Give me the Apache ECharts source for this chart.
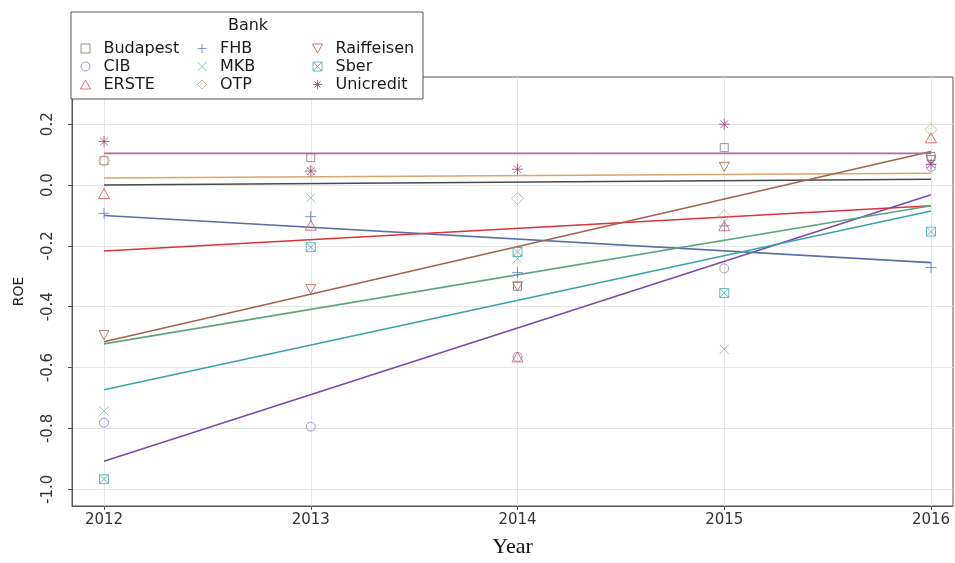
<!DOCTYPE html>
<html>
<head>
<meta charset="utf-8">
<title>ROE by Bank</title>
<script src="https://cdn.jsdelivr.net/npm/echarts@6/dist/echarts.min.js"></script>
<style>
  html, body { margin: 0; padding: 0; background: #fff; }
  #chart { width: 955px; height: 563px; }
</style>
</head>
<body>
<div id="chart"></div>
<script>
// Years on the x axis
const years = [2012, 2013, 2014, 2015, 2016];
const yTicks = [-1.0, -0.8, -0.6, -0.4, -0.2, 0.0, 0.2];

// Observed ROE per bank and year
const budapest   = [0.080, 0.090, -0.333, 0.123, 0.094];
const cib        = [-0.781, -0.794, -0.565, -0.274, 0.060];
const erste      = [-0.028, -0.132, -0.565, -0.134, 0.155];
const fhb        = [-0.093, -0.104, -0.288, -0.134, -0.271];
const mkb        = [-0.743, -0.042, -0.242, -0.540, 0.070];
const otp        = [0.080, 0.045, -0.044, -0.101, 0.182];
const raiffeisen = [-0.493, -0.342, -0.333, 0.060, 0.082];
const sber       = [-0.967, -0.204, -0.220, -0.355, -0.153];
const unicredit  = [0.143, 0.046, 0.052, 0.200, 0.068];

// Fitted trend values at the first and last year
const trendYears = [2012, 2016];
const budapestFit   = [0.000, 0.019];
const cibFit        = [-0.908, -0.032];
const ersteFit      = [-0.217, -0.068];
const fhbFit        = [-0.100, -0.255];
const mkbFit        = [-0.522, -0.068];
const otpFit        = [0.023, 0.039];
const raiffeisenFit = [-0.515, 0.110];
const sberFit       = [-0.673, -0.085];
const unicreditFit  = [0.104, 0.104];

// Outline-only marker shapes
const SYM = {
  square: 'path://M0,0L10,0L10,10L0,10Z',
  circle: 'path://M10,5A5,5,0,1,1,0,5A5,5,0,1,1,10,5Z',
  triangle: 'path://M5,0L10,9L0,9Z',
  plus: 'path://M5,0L5,10M0,5L10,5',
  cross: 'path://M0,0L10,10M10,0L0,10',
  diamond: 'path://M5,0L10,5L5,10L0,5Z',
  down: 'path://M0,0L10,0L5,9Z',
  boxcross: 'path://M0,0L10,0L10,10L0,10ZM0,0L10,10M10,0L0,10',
  star: 'path://M5,0L5,10M0,5L10,5M1.5,1.5L8.5,8.5M8.5,1.5L1.5,8.5'
};

const banks = [
  { name: 'Budapest',   pts: budapest,   fit: budapestFit,   line: '#4a4a4a', point: '#777777', sym: SYM.square,   size: 8 },
  { name: 'CIB',        pts: cib,        fit: cibFit,        line: '#7b4aa8', point: '#9579bd', sym: SYM.circle,   size: 9 },
  { name: 'ERSTE',      pts: erste,      fit: ersteFit,      line: '#d9343c', point: '#d44f57', sym: SYM.triangle, size: 11 },
  { name: 'FHB',        pts: fhb,        fit: fhbFit,        line: '#5a6fa6', point: '#6679ae', sym: SYM.plus,     size: 11 },
  { name: 'MKB',        pts: mkb,        fit: mkbFit,        line: '#5aa57c', point: '#79b5a4', sym: SYM.cross,    size: 9 },
  { name: 'OTP',        pts: otp,        fit: otpFit,        line: '#dca46a', point: '#d8ad80', sym: SYM.diamond,  size: 12 },
  { name: 'Raiffeisen', pts: raiffeisen, fit: raiffeisenFit, line: '#a5614d', point: '#9c6355', sym: SYM.down,     size: 10 },
  { name: 'Sber',       pts: sber,       fit: sberFit,       line: '#38a4a9', point: '#43aab0', sym: SYM.boxcross, size: 9 },
  { name: 'Unicredit',  pts: unicredit,  fit: unicreditFit,  line: '#b46aa2', point: '#9c4079', sym: SYM.star,     size: 11 }
];

const series = [];
banks.forEach(b => {
  series.push({
    name: b.name + ' trend',
    type: 'line',
    data: trendYears.map((y, i) => [y, b.fit[i]]),
    showSymbol: false,
    silent: true,
    lineStyle: { color: b.line, width: 1.6 },
    itemStyle: { color: b.line },
    z: 2
  });
});
banks.forEach(b => {
  series.push({
    name: b.name,
    type: 'scatter',
    data: years.map((y, i) => [y, b.pts[i]]),
    symbol: b.sym,
    symbolSize: b.size,
    symbolKeepAspect: true,
    itemStyle: { color: 'rgba(0,0,0,0)', borderColor: b.point, borderWidth: 1 },
    z: 3
  });
});

function legendColumn(names, left) {
  return {
    orient: 'vertical',
    left: left,
    top: 40,
    itemWidth: 10,
    itemHeight: 9,
    itemGap: 1,
    symbolKeepAspect: true,
    selectedMode: false,
    textStyle: { fontFamily: 'DejaVu Sans', fontSize: 16, color: '#1a1a1a', lineHeight: 17, padding: [0, 0, 0, 8] },
    padding: 0,
    data: names.map(n => {
      const b = banks.find(x => x.name === n);
      return {
        name: n,
        icon: b.sym,
        itemStyle: { color: 'rgba(0,0,0,0)', borderColor: b.point, borderWidth: 1 }
      };
    })
  };
}

const chart = echarts.init(document.getElementById('chart'), null, { renderer: 'canvas' });

chart.setOption({
  animation: false,
  backgroundColor: '#ffffff',
  grid: {
    left: 72, top: 77, width: 881, height: 436,
    show: true, borderColor: '#555', borderWidth: 1, backgroundColor: 'transparent'
  },
  xAxis: {
    type: 'value',
    min: 2011.8452,
    max: 2016.1064,
    name: 'Year',
    nameLocation: 'middle',
    nameGap: 30,
    nameTextStyle: { fontFamily: 'Liberation Serif', fontSize: 22, color: '#111' },
    axisLine: { show: true, onZero: false, lineStyle: { color: '#555', width: 1 } },
    axisTick: { show: true, length: 4, lineStyle: { color: '#555' }, customValues: years },
    axisLabel: {
      customValues: years, margin: 7,
      fontFamily: 'DejaVu Sans', fontSize: 15, color: '#333',
      formatter: v => String(Math.round(v))
    },
    splitLine: { show: true, lineStyle: { color: '#e6e6e6', width: 1 } }
  },
  yAxis: {
    type: 'value',
    min: -1.055,
    max: 0.3552,
    name: 'ROE',
    nameLocation: 'middle',
    nameGap: 46,
    nameRotate: 90,
    nameTextStyle: { fontFamily: 'DejaVu Sans', fontSize: 14, color: '#222' },
    axisLine: { show: true, onZero: false, lineStyle: { color: '#555', width: 1 } },
    axisTick: { show: true, length: 4, lineStyle: { color: '#555' }, customValues: yTicks },
    axisLabel: {
      customValues: yTicks, rotate: 90, margin: 16,
      fontFamily: 'DejaVu Sans', fontSize: 15, color: '#333',
      formatter: v => v.toFixed(1)
    },
    splitLine: { show: true, lineStyle: { color: '#e6e6e6', width: 1 } }
  },
  graphic: [
    {
      type: 'rect', z: 3,
      shape: { x: 71, y: 12, width: 352, height: 87 },
      style: { fill: '#fff', stroke: '#555', lineWidth: 1 }
    },
    {
      type: 'text', z: 5,
      x: 248, y: 26,
      style: { text: 'Bank', fontFamily: 'DejaVu Sans', fontSize: 16, fill: '#1a1a1a', align: 'center', verticalAlign: 'middle' }
    }
  ],
  legend: [
    legendColumn(['Budapest', 'CIB', 'ERSTE'], 80),
    legendColumn(['FHB', 'MKB', 'OTP'], 197),
    legendColumn(['Raiffeisen', 'Sber', 'Unicredit'], 312)
  ],
  series: series
});
</script>
</body>
</html>
